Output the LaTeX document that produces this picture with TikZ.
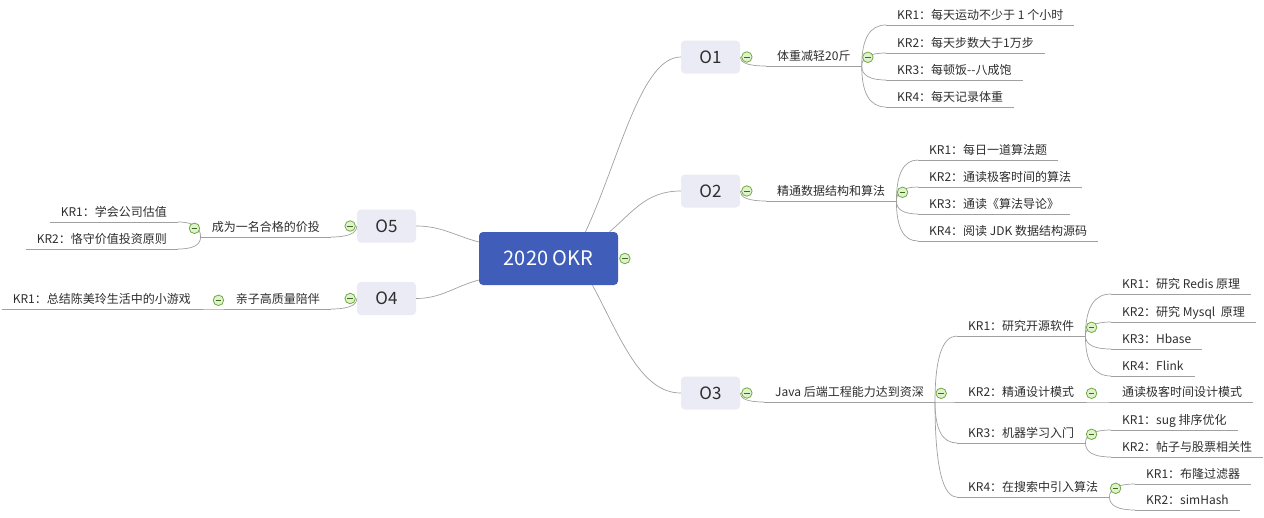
\documentclass[tikz,border=0pt]{standalone}
\usepackage{fontspec}
\setmainfont{Noto Sans CJK SC}
\usepackage{xcolor}
\usetikzlibrary{calc, positioning}

\definecolor{okrblue}{RGB}{64,93,186}
\definecolor{goalfill}{RGB}{234,235,245}
\definecolor{linegray}{RGB}{160,160,160}
\definecolor{textgray}{RGB}{45,45,45}
\definecolor{foldgreen}{RGB}{110,172,62}
\definecolor{foldfill}{RGB}{224,241,206}

\begin{document}
\begin{tikzpicture}[x=1pt,y=-1pt,
    line/.style={draw=linegray,line width=0.7pt},
    branch/.style={line,to path={.. controls ($(\tikztostart)!2/3!(\tikztostart |- \tikztotarget)$) and ($(\tikztotarget)!2/3!(\tikztostart |- \tikztotarget)$) .. (\tikztotarget)}},
    root node/.style={rectangle,rounded corners=4pt,fill=okrblue,text=white,minimum width=139pt,minimum height=53pt,font=\fontsize{20}{24}\selectfont},
    goal node/.style={rectangle,rounded corners=4pt,fill=goalfill,text=textgray,minimum width=59pt,minimum height=33pt,font=\fontsize{17}{20}\selectfont},
    topic node/.style={text=textgray,inner xsep=11pt,inner ysep=2.5pt,text height=9.5pt,text depth=2.5pt,font=\fontsize{12}{14}\selectfont,
      append after command={(\tikzlastnode.south west) edge[line] (\tikzlastnode.south east)}},
    fold node/.style={circle,draw=foldgreen,fill=foldfill,line width=0.8pt,inner sep=0pt,minimum size=10.5pt,
      path picture={\draw[foldgreen!60!black,line width=0.9pt] ([xshift=2.5pt]path picture bounding box.west) -- ([xshift=-2.5pt]path picture bounding box.east);}}]

  \useasboundingbox (0,0) rectangle (1264,517);

  \node[root node] (okr) at (548.5,258.5) {2020 OKR};
  \node[goal node] (o1) at (710.5,57) {O1};
  \node[goal node] (o2) at (710.5,191) {O2};
  \node[goal node] (o3) at (710.5,393) {O3};
  \node[goal node] (o5) at (386.5,226) {O5};
  \node[goal node] (o4) at (386.5,298.5) {O4};

  % O1
  \node[topic node,anchor=south west] (t1) at (766,66) {体重减轻20斤};
  \node[topic node,anchor=south west] (k11) at (886,25) {KR1：每天运动不少于 1 个小时};
  \node[topic node,anchor=south west] (k12) at (886,53) {KR2：每天步数大于1万步};
  \node[topic node,anchor=south west] (k13) at (886,80) {KR3：每顿饭{-}{-}八成饱};
  \node[topic node,anchor=south west] (k14) at (886,107) {KR4：每天记录体重};

  % O2
  \node[topic node,anchor=south west] (t2) at (766,201) {精通数据结构和算法};
  \node[topic node,anchor=south west] (k21) at (918,160) {KR1：每日一道算法题};
  \node[topic node,anchor=south west] (k22) at (918,187) {KR2：通读极客时间的算法};
  \node[topic node,anchor=south west] (k23) at (918,214) {KR3：通读《算法导论》};
  \node[topic node,anchor=south west] (k24) at (918,241) {KR4：阅读 JDK 数据结构源码};

  % O3
  \node[topic node,anchor=south west] (t3) at (764,402) {Java 后端工程能力达到资深};
  \node[topic node,anchor=south west] (k31) at (957,336) {KR1：研究开源软件};
  \node[topic node,anchor=south west] (k32) at (957,402) {KR2：精通设计模式};
  \node[topic node,anchor=south west] (k33) at (957,443) {KR3：机器学习入门};
  \node[topic node,anchor=south west] (k34) at (957,497) {KR4：在搜索中引入算法};
  \node[topic node,anchor=south west] (k311) at (1111,294) {KR1：研究 Redis 原理};
  \node[topic node,anchor=south west] (k312) at (1111,322) {KR2：研究 Mysql\ \ 原理};
  \node[topic node,anchor=south west] (k313) at (1111,349) {KR3：Hbase};
  \node[topic node,anchor=south west] (k314) at (1111,376) {KR4：Flink};
  \node[topic node,anchor=south west] (k321) at (1111,402) {通读极客时间设计模式};
  \node[topic node,anchor=south west] (k331) at (1111,430) {KR1：sug 排序优化};
  \node[topic node,anchor=south west] (k332) at (1111,457) {KR2：帖子与股票相关性};
  \node[topic node,anchor=south west] (k341) at (1135,484) {KR1：布隆过滤器};
  \node[topic node,anchor=south west] (k342) at (1135,510) {KR2：simHash};

  % O5 and O4
  \node[topic node,anchor=south east] (t5) at (331,237) {成为一名合格的价投};
  \node[topic node,anchor=south east] (k51) at (178,222) {KR1：学会公司估值};
  \node[topic node,anchor=south east] (k52) at (178,249) {KR2：恪守价值投资原则};
  \node[topic node,anchor=south east] (t4) at (331,309) {亲子高质量陪伴};
  \node[topic node,anchor=south east] (k41) at (202,309) {KR1：总结陈美玲生活中的小游戏};

  \draw[line] ([xshift=37pt]okr.north) .. controls +(65:80pt) and +(-40pt,0pt) .. (o1.west);
  \draw[line] ([xshift=61pt]okr.north) .. controls +(40:30pt) and +(-35pt,0pt) .. (o2.west);
  \draw[line] ([xshift=44pt]okr.south) .. controls +(-62:60pt) and +(-40pt,0pt) .. (o3.west);
  \draw[line] ([yshift=16.5pt]okr.west) .. controls +(165:25pt) and +(25pt,0pt) .. (o5.east);
  \draw[line] ([yshift=-21.5pt]okr.west) .. controls +(195:25pt) and +(25pt,0pt) .. (o4.east);

  \path[every edge/.style={branch}]
    (o1.east) edge (t1.south west)
    (t1.south east) edge (k11.south west)
      edge (k12.south west)
      edge (k13.south west)
      edge (k14.south west)
    (o2.east) edge (t2.south west)
    (t2.south east) edge (k21.south west)
      edge (k22.south west)
      edge (k23.south west)
      edge (k24.south west)
    (o3.east) edge (t3.south west)
    (t3.south east) edge (k31.south west)
      edge (k32.south west)
      edge (k33.south west)
      edge (k34.south west)
    (k31.south east) edge (k311.south west)
      edge (k312.south west)
      edge (k313.south west)
      edge (k314.south west)
    (k32.south east) edge (k321.south west)
    (k33.south east) edge (k331.south west)
      edge (k332.south west)
    (k34.south east) edge (k341.south west)
      edge (k342.south west)
    (o5.west) edge (t5.south east)
    (t5.south west) edge (k51.south east)
      edge (k52.south east)
    (o4.west) edge (t4.south east)
    (t4.south west) edge (k41.south east);

  % fold markers
  \node[fold node] (f0) [right=1pt of okr] {};
  \node[fold node] (f1) [right=1pt of o1] {};
  \node[fold node] (f2) [right=1pt of o2] {};
  \node[fold node] (f3) [right=1pt of o3] {};
  \node[fold node] (f5) [left=1pt of o5] {};
  \node[fold node] (f4) [left=1pt of o4] {};
  \node[fold node] (ft1) [right=0.5pt of t1] {};
  \node[fold node] (ft2) [right=0.5pt of t2] {};
  \node[fold node] (ft3) [right=0.5pt of t3] {};
  \node[fold node] (fk31) [right=0.5pt of k31] {};
  \node[fold node] (fk32) [right=0.5pt of k32] {};
  \node[fold node] (fk33) [right=0.5pt of k33] {};
  \node[fold node] (fk34) [right=0.5pt of k34] {};
  \node[fold node] (ft5) [left=0.5pt of t5] {};
  \node[fold node] (ft4) [left=0.5pt of t4] {};

\end{tikzpicture}
\end{document}
